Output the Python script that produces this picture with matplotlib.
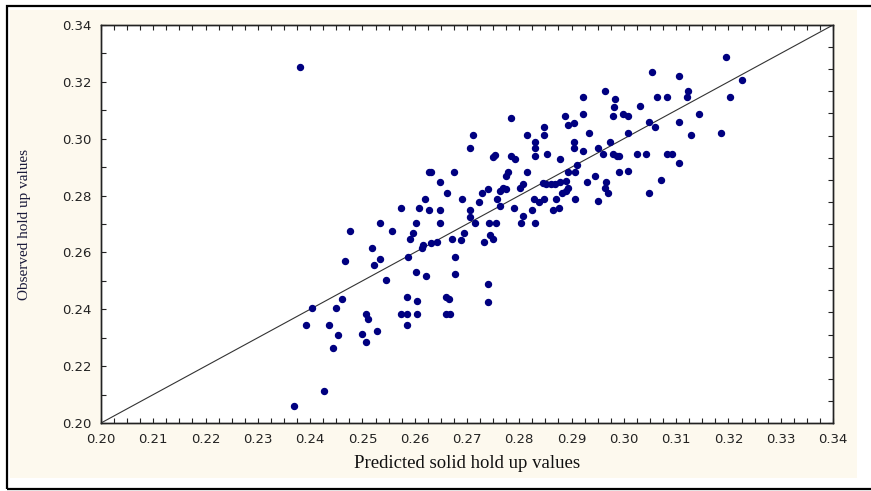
import matplotlib
matplotlib.use("Agg")
import matplotlib.pyplot as plt
from matplotlib.patches import Rectangle
from matplotlib.ticker import MultipleLocator

# predicted vs observed solid hold up
predicted = [
    0.2381, 0.2627, 0.2620, 0.2574, 0.2609, 0.2627, 0.2534, 0.2603, 0.2477, 0.2557,
    0.2597, 0.2591, 0.2615, 0.2613, 0.2518, 0.2534, 0.2466, 0.2523, 0.2587, 0.2546,
    0.2603, 0.2621, 0.2460, 0.2403, 0.2449, 0.2586, 0.2604, 0.2506, 0.2511, 0.2574,
    0.2586, 0.2604, 0.2586, 0.2392, 0.2437, 0.2454, 0.2500, 0.2528, 0.2506, 0.2444,
    0.2426, 0.2369,
    0.2785, 0.2888, 0.2922, 0.2982, 0.2980, 0.2894, 0.2904, 0.2848, 0.2711, 0.2815,
    0.2848, 0.2934, 0.2706, 0.2831, 0.2831, 0.2905, 0.2905, 0.2922, 0.2950, 0.2973,
    0.2853, 0.2831, 0.2878, 0.2753, 0.2750, 0.2785, 0.2791, 0.2961, 0.2980, 0.2986,
    0.2631, 0.2676, 0.2814, 0.2779, 0.2775, 0.2894, 0.2906, 0.2910, 0.2990, 0.2648,
    0.2661, 0.2690, 0.2728, 0.2741, 0.2763, 0.2768, 0.2775, 0.2801, 0.2808, 0.2846,
    0.2852, 0.2861, 0.2868, 0.2878, 0.2889, 0.2894, 0.2889, 0.2881, 0.2929, 0.2945,
    0.2966, 0.2964, 0.2969, 0.2906, 0.2951, 0.2829, 0.2838, 0.2847, 0.2871, 0.2790,
    0.2825, 0.2865, 0.2876, 0.2763, 0.2757, 0.2723, 0.2706, 0.2706, 0.2648, 0.2648,
    0.2716, 0.2743, 0.2755, 0.2803, 0.2831, 0.2807, 0.2694, 0.2672, 0.2688, 0.2744,
    0.2750, 0.2733, 0.2632, 0.2643, 0.2677, 0.2677, 0.2741, 0.2660, 0.2666, 0.2741,
    0.2660, 0.2667,
    0.3196, 0.3225, 0.3053, 0.3105, 0.2963, 0.3122, 0.2984, 0.3064, 0.3082, 0.3121,
    0.3203, 0.3031, 0.2998, 0.3008, 0.3144, 0.3048, 0.3059, 0.3105, 0.3008, 0.3128,
    0.3185, 0.2991, 0.3026, 0.3042, 0.3082, 0.3093, 0.3105, 0.3008, 0.3071, 0.3048,
    0.2922,
]
observed = [
    0.3251, 0.2884, 0.2787, 0.2757, 0.2757, 0.2749, 0.2705, 0.2705, 0.2675, 0.2675,
    0.2667, 0.2647, 0.2626, 0.2614, 0.2614, 0.2577, 0.2570, 0.2556, 0.2585, 0.2502,
    0.2532, 0.2517, 0.2435, 0.2406, 0.2406, 0.2443, 0.2428, 0.2382, 0.2367, 0.2382,
    0.2382, 0.2382, 0.2345, 0.2345, 0.2345, 0.2309, 0.2314, 0.2322, 0.2285, 0.2263,
    0.2113, 0.2061,
    0.3072, 0.3079, 0.3086, 0.3110, 0.3079, 0.3048, 0.3056, 0.3041, 0.3012, 0.3012,
    0.3012, 0.3020, 0.2966, 0.2990, 0.2966, 0.2987, 0.2968, 0.2958, 0.2966, 0.2990,
    0.2946, 0.2938, 0.2930, 0.2943, 0.2937, 0.2939, 0.2930, 0.2946, 0.2946, 0.2939,
    0.2884, 0.2884, 0.2884, 0.2884, 0.2869, 0.2884, 0.2884, 0.2908, 0.2884, 0.2847,
    0.2810, 0.2787, 0.2810, 0.2823, 0.2817, 0.2826, 0.2823, 0.2826, 0.2840, 0.2843,
    0.2840, 0.2840, 0.2840, 0.2847, 0.2852, 0.2826, 0.2817, 0.2810, 0.2849, 0.2869,
    0.2849, 0.2826, 0.2810, 0.2787, 0.2781, 0.2787, 0.2779, 0.2787, 0.2787, 0.2757,
    0.2749, 0.2749, 0.2757, 0.2763, 0.2787, 0.2779, 0.2749, 0.2726, 0.2749, 0.2705,
    0.2705, 0.2705, 0.2705, 0.2705, 0.2705, 0.2728, 0.2667, 0.2646, 0.2644, 0.2661,
    0.2646, 0.2638, 0.2632, 0.2638, 0.2585, 0.2525, 0.2488, 0.2443, 0.2435, 0.2427,
    0.2383, 0.2383,
    0.3289, 0.3207, 0.3236, 0.3222, 0.3169, 0.3169, 0.3139, 0.3147, 0.3147, 0.3147,
    0.3147, 0.3116, 0.3087, 0.3080, 0.3087, 0.3058, 0.3042, 0.3058, 0.3021, 0.3013,
    0.3020, 0.2938, 0.2945, 0.2945, 0.2945, 0.2945, 0.2913, 0.2885, 0.2855, 0.2810,
    0.3147,
]
x_min, x_max = 0.20, 0.34
x_ticks = [0.20, 0.21, 0.22, 0.23, 0.24, 0.25, 0.26, 0.27, 0.28, 0.29, 0.30, 0.31, 0.32, 0.33, 0.34]
y_ticks = [0.20, 0.22, 0.24, 0.26, 0.28, 0.30, 0.32, 0.34]
x_label = "Predicted solid hold up values"
y_label = "Observed hold up values"

W, H = 871, 491
fig = plt.figure(figsize=(W / 100, H / 100), dpi=100, facecolor="white")

# cream panel and the black frame around it
fig.patches.append(Rectangle((10 / W, 1 - 478 / H), 847 / W, 468 / H,
                             transform=fig.transFigure, facecolor="#fdf9ee",
                             edgecolor="none", zorder=-2))
fig.patches.append(Rectangle((7 / W, 1 - 489 / H), 1.0, 483 / H,
                             transform=fig.transFigure, facecolor="none",
                             edgecolor="black", lw=1.6, zorder=-1))

ax = fig.add_axes([101 / W, 1 - 423 / H, 732 / W, 398 / H])
ax.set_facecolor("white")

ax.plot([x_min, x_max], [x_min, x_max], color="#333333", lw=0.8, zorder=2)
ax.plot(predicted, observed, linestyle="none", marker="o", ms=4.3,
        color="#000080", mec="#000080", zorder=3)

ax.set_xlim(x_min, x_max)
ax.set_ylim(x_min, x_max)
ax.set_xticks(x_ticks)
ax.set_xticklabels([f"{v:.2f}" for v in x_ticks])
ax.set_yticks(y_ticks)
ax.set_yticklabels([f"{v:.2f}" for v in y_ticks])
ax.xaxis.set_minor_locator(MultipleLocator(0.0025))
ax.yaxis.set_minor_locator(MultipleLocator(0.01))
ax.tick_params(axis="x", which="both", direction="in", length=3.5, width=0.8,
               top=True, bottom=True, pad=7, labelsize=9.5, colors="#222222")
ax.tick_params(axis="y", which="both", direction="in", length=3.5, width=0.8,
               left=True, right=False, pad=7, labelsize=9.5, colors="#222222")

# right-hand ticks have their own spacing in the original
ax2 = ax.twinx()
ax2.set_ylim(0, 18)
ax2.set_yticks(range(19))
ax2.tick_params(axis="y", direction="in", length=3.5, width=0.8, labelright=False,
                colors="#222222")

for a in (ax, ax2):
    for s in a.spines.values():
        s.set_color("#222222")
        s.set_linewidth(1.0)

ax.set_xlabel(x_label, family="Liberation Serif", fontsize=13.5, labelpad=7, color="#111111")
ax.set_ylabel(y_label, family="Liberation Serif", fontsize=11, labelpad=22, color="#1a1a3a")

fig.savefig("out.png", dpi=100, facecolor=fig.get_facecolor())
